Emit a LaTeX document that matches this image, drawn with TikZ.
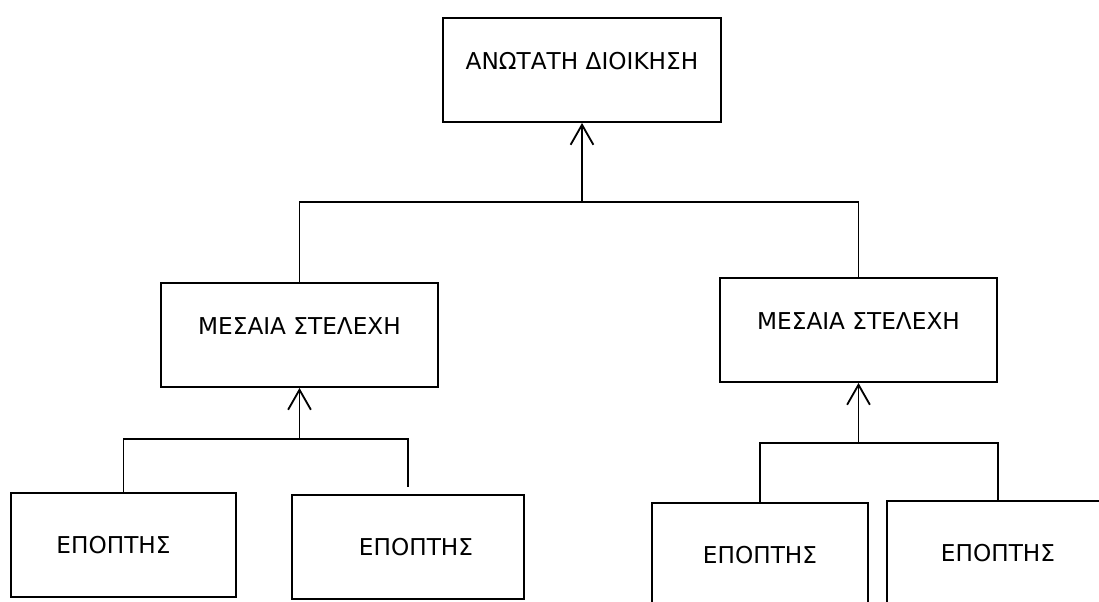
\documentclass[tikz,border=0pt]{standalone}
\usepackage{fontspec}
\setmainfont{DejaVu Sans}
\usetikzlibrary{arrows.meta}

\tikzset{
  caja/.style={draw, line width=1.3pt, minimum height=2.6cm, inner sep=0pt, font=\fontsize{16.5}{18}\selectfont},
  jefe/.style={caja, text height=0.42cm, text depth=0.46cm},
  empleado/.style={caja, text height=0.42cm, text depth=0pt},
  linea/.style={line width=1.3pt},
  flecha/.style={line width=1.3pt, -{Straight Barb[length=0.5cm,width=0.57cm]}}
}

\begin{document}
\begin{tikzpicture}[x=0.025cm, y=-0.025cm]
    \useasboundingbox (0,0) rectangle (1099,601);
    \clip (0,0) rectangle (1099,601);

    % Dirección
    \node[jefe, minimum width=6.95cm] (top) at (582,70) {ΑΝΩΤΑΤΗ ΔΙΟΙΚΗΣΗ};

    % Mandos medios
    \node[jefe, minimum width=6.92cm] (mid1) at (299.5,335) {ΜΕΣΑΙΑ ΣΤΕΛΕΧΗ};
    \node[jefe, minimum width=6.92cm] (mid2) at (858.5,330) {ΜΕΣΑΙΑ ΣΤΕΛΕΧΗ};

    % Supervisores
    \node[empleado, minimum width=5.62cm] (ep1) at (123.5,545) {ΕΠΟΠΤΗΣ\hspace*{0.5cm}};
    \node[empleado, minimum width=5.8cm] (ep2) at (408,547) {\hspace*{0.4cm}ΕΠΟΠΤΗΣ};
    \node[empleado, minimum width=5.4cm] (ep3) at (760,555) {ΕΠΟΠΤΗΣ};
    \node[empleado, minimum width=5.55cm] (ep4) at (998,553) {ΕΠΟΠΤΗΣ};

    % Uniones
    \coordinate (j1) at (top.south |- 0,202);
    \coordinate (j2) at (mid1.south |- 0,439);
    \coordinate (j3) at (mid2.south |- 0,443);

    % Líneas y flechas
    \draw[linea] (mid1.north) -- (mid1.north |- j1) -- (mid2.north |- j1) -- (mid2.north);
    \draw[flecha] (j1) -- (top.south);

    \draw[linea, shorten >=0.17cm] (ep1.north) -- (ep1.north |- j2) -- (ep2.north |- j2) -- (ep2.north);
    \draw[flecha] (j2) -- (mid1.south);

    \draw[linea] (ep3.north) -- (ep3.north |- j3) -- (ep4.north |- j3) -- (ep4.north);
    \draw[flecha] (j3) -- (mid2.south);

\end{tikzpicture}
\end{document}
